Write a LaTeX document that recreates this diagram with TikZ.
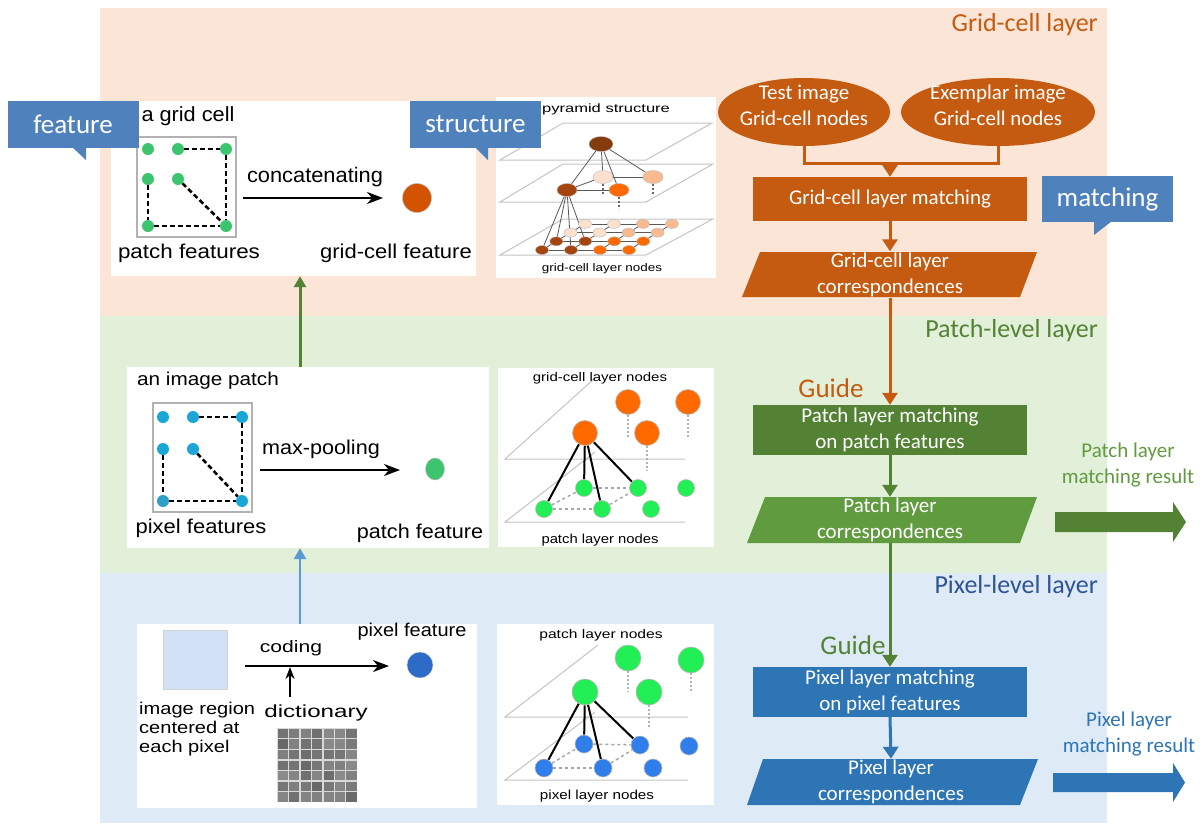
\documentclass[tikz,border=0pt]{standalone}
\usepackage{graphicx}
\usepackage{fontspec}
\setmainfont{Liberation Sans}
\newfontfamily\calfont{Carlito}
\usetikzlibrary{shapes.geometric,arrows.meta,calc}
\definecolor{bandO}{HTML}{FBE5D6}
\definecolor{bandG}{HTML}{E2F0D9}
\definecolor{bandB}{HTML}{DEEBF7}
\definecolor{callB}{HTML}{4F81BD}
\definecolor{orDk}{HTML}{C55A11}
\definecolor{grDk}{HTML}{548235}
\definecolor{grLt}{HTML}{619B40}
\definecolor{blDk}{HTML}{2E75B6}
\definecolor{blMid}{HTML}{5B9BD5}
\definecolor{navy}{HTML}{2F5496}
\definecolor{dotG}{HTML}{3CC46E}
\definecolor{dotB}{HTML}{1AA7D8}
\definecolor{brTop}{HTML}{843C0C}
\definecolor{brMid}{HTML}{A5440E}
\definecolor{peachL}{HTML}{FCE1CE}
\definecolor{peach}{HTML}{F8BA8E}
\definecolor{orBr}{HTML}{FF6A00}
\definecolor{grBr}{HTML}{22EE55}
\definecolor{blBr}{HTML}{2F7EEC}
\definecolor{featO}{HTML}{D35400}
\definecolor{featB}{HTML}{2E6BC6}
\definecolor{planeC}{HTML}{C4C4C4}
\definecolor{regB}{HTML}{D3E1F7}
\newcommand{\ptx}[3]{{\fontsize{#1}{#1}\selectfont\scalebox{#2}[1]{#3}}}
\pgfdeclarelayer{back}
\pgfdeclarelayer{lines}
\pgfsetlayers{back,lines,main}
\tikzset{
  callbox/.style={fill=callB, text=white, font=\calfont\fontsize{27}{30}\selectfont, minimum width=131, minimum height=47, inner sep=0},
  ftxt/.style={font=\calfont\fontsize{21}{26}\selectfont, text=white, align=center, inner sep=0},
  fbox/.style={rectangle, minimum width=274, ftxt},
  ellbox/.style={ellipse, fill=orDk, minimum height=68, inner sep=0},
  corr/.style={minimum width=260, minimum height=46, ftxt},
  conn/.style={line width=3pt, -{Triangle[width=15pt,length=12pt]}},
  lyr/.style={font=\calfont\fontsize{26}{30}\selectfont, anchor=east, inner sep=0},
  guide/.style={font=\calfont\fontsize{27}{30}\selectfont, inner sep=0},
  res/.style={font=\calfont\fontsize{21}{26}\selectfont, align=center, inner sep=0},
  panel/.style={fill=white, inner sep=0},
  txt/.style={inner sep=0, anchor=base},
  gdot/.style={circle, fill=dotG, minimum size=12, inner sep=0},
  bdot/.style={circle, fill=dotB, minimum size=12, inner sep=0},
  dline/.style={dash pattern=on 5pt off 3pt, line width=2.6pt},
  karrow/.style={line width=2pt, -{Stealth[length=16pt,width=12pt,inset=5pt]}},
  plane/.style={draw=planeC, line width=1pt},
  tline/.style={draw=gray!70!black, line width=0.8pt},
  vdots/.style={draw=gray!80!black, line width=1.5pt, dash pattern=on 2pt off 2pt},
  bline/.style={line width=2pt, black},
  gdash/.style={draw=gray!70, line width=1.5pt, dash pattern=on 3pt off 3pt},
  pn/.style={circle, draw=gray!55, line width=0.6pt, inner sep=0},
  en/.style={ellipse, draw=gray!55, line width=0.4pt, inner sep=0},
}
\begin{document}
\begin{tikzpicture}[x=1pt,y=-1pt]
\useasboundingbox (0,0) rectangle (1202,823);
% ---------------- background bands and panels
\begin{pgfonlayer}{back}
\fill[bandO] (100,8) rectangle (1107,316);
\fill[bandG] (100,316) rectangle (1107,573);
\fill[bandB] (100,573) rectangle (1107,823);
\node[panel, minimum width=365, minimum height=175] (P1) at (293.5,188.5) {};
\node[panel, minimum width=220, minimum height=181] (T1) at (606,187.5) {};
\node[panel, minimum width=362, minimum height=181] (P2) at (308,457.5) {};
\node[panel, minimum width=216, minimum height=179] (T2) at (606,457.5) {};
\node[panel, minimum width=340, minimum height=184] (P3) at (307,716) {};
\node[panel, minimum width=217, minimum height=181] (T3) at (605.5,714.5) {};
% planes
\draw[plane] (500,160) -- (646,160) -- (712,123) -- (563,123) -- cycle;
\draw[plane] (500,202) -- (646,202) -- (713,164) -- (563,164) -- cycle;
\draw[plane] (500,255) -- (646,255) -- (713,219) -- (563,219) -- cycle;
\draw[plane] (595,378) -- (505,459) -- (685,459);
\draw[plane] (595,452) -- (505,522) -- (685,522);
\draw[plane] (598,645) -- (505,717) -- (688,717);
\draw[plane] (595,712) -- (505,780) -- (688,780);
\end{pgfonlayer}

% ---------------- layer labels
\node[lyr, text=orDk] (L1) at (1098,25) {Grid-cell layer};
\node[lyr, text=grDk] (L2) at (1098,331) {Patch-level layer};
\node[lyr, text=navy] (L3) at (1098,587) {Pixel-level layer};

% ---------------- panel 1 : grid cell
\node[draw=gray!60, line width=1.2pt, minimum width=99, minimum height=100, inner sep=0] (gcbox) at (186.5,187) {};
\node[gdot] (a1) at (148,149) {};
\node[gdot] (a2) at (178,149) {};
\node[gdot] (a3) at (226,149) {};
\node[gdot] (a4) at (148,179) {};
\node[gdot] (a5) at (178,179) {};
\node[gdot] (a6) at (148,226) {};
\node[gdot] (a7) at (226,226) {};
\begin{pgfonlayer}{lines}
\draw[dline] (a2) -- (a3);
\draw[dline] (a3) -- (a7);
\draw[dline] (a5) -- (a7);
\draw[dline] (a4) -- (a6);
\draw[dline] (a6) -- (a7);
\end{pgfonlayer}
\coordinate (c1) at (243,198);
\coordinate (c2) at (383,198);
\draw[karrow] (c1) -- (c2);
\node[circle, fill=featO, draw=gray!50, line width=0.5pt, minimum size=29, inner sep=0] (gf) at (417,198) {};
\node[txt] (t1a) at (188,121) {\ptx{20.5}{1.06}{a grid cell}};
\node[txt] (t1b) at (315,182) {\ptx{21}{1.04}{concatenating}};
\node[txt] (t1c) at (189,258) {\ptx{20}{1.12}{patch features}};
\node[txt] (t1d) at (396,258) {\ptx{20}{1.1}{grid-cell feature}};

% ---------------- top pyramid
\node[en, fill=brTop, minimum width=24, minimum height=15] (t0) at (601,144) {};
\node[en, fill=brMid, minimum width=20, minimum height=13] (m1) at (567,190) {};
\node[en, fill=peachL, minimum width=20, minimum height=13] (m2) at (603,177) {};
\node[en, fill=orBr, minimum width=20, minimum height=13] (m3) at (619,190) {};
\node[en, fill=peach, minimum width=20, minimum height=13] (m4) at (653,177) {};
\foreach \r in {1,...,4} {
  \foreach \c in {1,...,4} {
    \pgfmathsetmacro\xx{542+29*(\c-1)+14.3*(\r-1)}
    \pgfmathsetmacro\yy{250-8.7*(\r-1)}
    \ifnum\r<3
      \ifnum\c<3 \def\col{brMid}\else\def\col{orBr}\fi
    \else
      \ifnum\c<3 \def\col{peachL}\else\def\col{peach}\fi
    \fi
    \node[en, fill=\col, minimum width=13, minimum height=9] (g\r\c) at (\xx,\yy) {};
  }
}
\begin{pgfonlayer}{lines}
\draw[tline] (t0) -- (m1);
\draw[tline] (t0) -- (m2);
\draw[tline] (t0) -- (m3);
\draw[tline] (t0) -- (m4);
\draw[tline] (m1) -- (m2);
\draw[tline] (m1) -- (m3);
\draw[tline] (m2) -- (m4);
\foreach \r in {1,...,4} { \draw[tline] (g\r1) -- (g\r4); }
\foreach \c in {1,...,4} { \draw[tline] (g1\c) -- (g4\c); }
\draw[tline] (m1) -- (g11);
\draw[tline] (m1) -- (g21);
\draw[tline] (m1) -- (g12);
\draw[tline] (m1) -- (g22);
\draw[vdots] (m2.south) -- ++(0,11);
\draw[vdots] (m4.south) -- ++(0,12);
\draw[vdots] (m3.south) -- ++(0,12);
\end{pgfonlayer}
\node[txt] (t2a) at (606,112) {\ptx{12}{1.38}{pyramid structure}};
\node[txt] (t2b) at (602,271) {\ptx{11}{1.22}{grid-cell layer nodes}};

% ---------------- panel 2 : image patch
\node[draw=gray!60, line width=1.2pt, minimum width=99, minimum height=109, inner sep=0] (ipbox) at (202.5,457.5) {};
\node[bdot] (b1) at (163,417) {};
\node[bdot] (b2) at (193,417) {};
\node[bdot] (b3) at (242,417) {};
\node[bdot] (b4) at (163,449) {};
\node[bdot] (b5) at (193,449) {};
\node[bdot, fill=dotB!80!gray] (b6) at (163,501) {};
\node[bdot] (b7) at (242,501) {};
\begin{pgfonlayer}{lines}
\draw[dline] (b2) -- (b3);
\draw[dline] (b3) -- (b7);
\draw[dline] (b5) -- (b7);
\draw[dline] (b4) -- (b6);
\draw[dline] (b6) -- (b7);
\end{pgfonlayer}
\coordinate (d1) at (260,470);
\coordinate (d2) at (400,470);
\draw[karrow] (d1) -- (d2);
\node[ellipse, fill=dotG, draw=gray!50, line width=0.5pt, minimum width=19, minimum height=22, inner sep=0] (pf) at (435,469) {};
\node[txt] (t3a) at (208,385) {\ptx{18.5}{1.12}{an image patch}};
\node[txt] (t3b) at (321,454) {\ptx{20}{1.08}{max-pooling}};
\node[txt] (t3c) at (201,533) {\ptx{20}{1.1}{pixel features}};
\node[txt] (t3d) at (420,538) {\ptx{20}{1.08}{patch feature}};

% ---------------- middle pyramid
\node[pn, fill=orBr, minimum size=25] (o1) at (585,433) {};
\node[pn, fill=orBr, minimum size=25] (o2) at (628,402) {};
\node[pn, fill=orBr, minimum size=25] (o3) at (688,402) {};
\node[pn, fill=orBr, minimum size=25] (o4) at (647,433) {};
\node[pn, fill=grBr, minimum size=17] (q1) at (584,488) {};
\node[pn, fill=grBr, minimum size=17] (q2) at (638,488) {};
\node[pn, fill=grBr, minimum size=17] (q3) at (686,488) {};
\node[pn, fill=grBr, minimum size=17] (q4) at (544,509) {};
\node[pn, fill=grBr, minimum size=17] (q5) at (602,509) {};
\node[pn, fill=grBr, minimum size=17] (q6) at (651,509) {};
\begin{pgfonlayer}{lines}
\draw[bline] (o1) -- (q4);
\draw[bline] (o1) -- (q1);
\draw[bline] (o1) -- (q5);
\draw[bline] (o1) -- (q2);
\draw[gdash] (q4) -- (q5);
\draw[gdash] (q1) -- (q2);
\draw[gdash] (q4) -- (q1);
\draw[gdash] (q5) -- (q2);
\draw[vdots, draw=gray!60] (o2.south) -- ++(0,22);
\draw[vdots, draw=gray!60] (o3.south) -- ++(0,22);
\draw[vdots, draw=gray!60] (o4.south) -- ++(0,25);
\end{pgfonlayer}
\node[txt] (t4a) at (600,381) {\ptx{12.5}{1.2}{grid-cell layer nodes}};
\node[txt] (t4b) at (600,543) {\ptx{13}{1.14}{patch layer nodes}};

% ---------------- panel 3 : pixel feature
\node[fill=regB, draw=gray!35, line width=0.8pt, minimum width=64, minimum height=59, inner sep=0] (reg) at (195,659.5) {};
\coordinate (e1a) at (245,666);
\coordinate (e1b) at (389,666);
\draw[karrow] (e1a) -- (e1b);
\coordinate (up1) at (290,697);
\coordinate (up2) at (290,667);
\draw[line width=2pt, -{Stealth[length=12pt,width=9pt,inset=4pt]}] (up1) -- (up2);
\node[circle, fill=featB, draw=gray!40, line width=0.5pt, minimum size=26, inner sep=0] (xf) at (420,665) {};
\node[txt] (t5a) at (291,652) {\ptx{16.5}{1.28}{coding}};
\node[txt] (t5b) at (412,636) {\ptx{18.5}{1.08}{pixel feature}};
\node[txt, anchor=base west] (t5c) at (139,714) {\ptx{17}{1.18}{image region}};
\node[txt, anchor=base west] (t5d) at (139,733) {\ptx{17}{1.18}{centered at}};
\node[txt, anchor=base west] (t5e) at (139,752) {\ptx{17}{1.18}{each pixel}};
\node[txt] (t5f) at (316,717) {\ptx{17.5}{1.38}{dictionary}};
% dictionary image
\fill[gray!30] (277,728) rectangle (357,802);
\pgfmathsetseed{11}
\foreach \i in {0,...,6} {
  \foreach \j in {0,...,6} {
    \pgfmathsetmacro\gl{45+15*rnd}
    \fill[black!\gl] ({277.8+\i*11.43},{728.8+\j*10.57}) rectangle ({277.8+\i*11.43+10.2},{728.8+\j*10.57+9.4});
  }
}

% ---------------- bottom pyramid
\node[pn, fill=grBr, minimum size=26] (h1) at (585,692) {};
\node[pn, fill=grBr, minimum size=26] (h2) at (628,658) {};
\node[pn, fill=grBr, minimum size=26] (h3) at (691,660) {};
\node[pn, fill=grBr, minimum size=26] (h4) at (649,692) {};
\node[pn, fill=blBr, minimum size=18] (k1) at (584,744) {};
\node[pn, fill=blBr, minimum size=18] (k2) at (640,745) {};
\node[pn, fill=blBr, minimum size=18] (k3) at (689,746) {};
\node[pn, fill=blBr, minimum size=18] (k4) at (544,768) {};
\node[pn, fill=blBr, minimum size=18] (k5) at (603,768) {};
\node[pn, fill=blBr, minimum size=18] (k6) at (653,768) {};
\begin{pgfonlayer}{lines}
\draw[bline] (h1) -- (k4);
\draw[bline] (h1) -- (k1);
\draw[bline] (h1) -- (k5);
\draw[bline] (h1) -- (k2);
\draw[gdash] (k4) -- (k5);
\draw[gdash] (k1) -- (k2);
\draw[gdash] (k4) -- (k1);
\draw[gdash] (k5) -- (k2);
\draw[vdots, draw=gray!60] (h2.south) -- ++(0,21);
\draw[vdots, draw=gray!60] (h3.south) -- ++(0,20);
\draw[vdots, draw=gray!60] (h4.south) -- ++(0,24);
\end{pgfonlayer}
\node[txt] (t6a) at (601,638) {\ptx{12.5}{1.25}{patch layer nodes}};
\node[txt] (t6b) at (597,799) {\ptx{13}{1.17}{pixel layer nodes}};

% ---------------- vertical arrows between panels
\draw[grDk, line width=3pt, -{Triangle[width=12pt,length=11pt]}] ([xshift=-8]P2.north) -- ([xshift=6.5]P1.south);
\draw[blMid, line width=2.5pt, -{Triangle[width=12pt,length=11pt]}] ([xshift=-7]P3.north) -- ([xshift=-8]P2.south);

% ---------------- callouts
\node[callbox] (cf) at (73,124.5) {feature};
\fill[callB] (72,147) -- (86,160) -- (86,147) -- cycle;
\node[callbox] (cs) at (475.5,124.5) {structure};
\fill[callB] (475,147) -- (488,160) -- (488,147) -- cycle;
\node[callbox, minimum height=46] (cm) at (1107.5,199) {matching};
\fill[callB] (1094,221) -- (1094,235) -- (1112,221) -- cycle;

% ---------------- flowchart
\node[ellbox, minimum width=172] (e1) at (804,112) {};
\node[ftxt] (e1t) at (804,105.5) {Test image\\Grid-cell nodes};
\node[ellbox, minimum width=194] (e2) at (998,112) {};
\node[ftxt] (e2t) at (998,105.5) {Exemplar image\\Grid-cell nodes};
\coordinate (jn) at (890,163);
\node[fbox, fill=orDk, minimum height=44] (gm) at (890,199) {Grid-cell layer matching};
\draw[orDk, line width=3pt] (e1.south) |- (jn) -| (e2.south);
\draw[orDk, conn] (jn) -- (gm.north);
\fill[orDk] (760,252) -- (1037,252) -- (1020,297) -- (742,297) -- cycle;
\node[corr] (gc) at (890,274.5) {Grid-cell layer\\correspondences};
\draw[orDk, conn] (gm.south) -- (gc.north);

\node[fbox, fill=grDk, minimum height=50] (pm) at (890,430) {Patch layer matching\\on patch features};
\draw[orDk, conn] (gc.south) -- (pm.north);
\node[guide, text=orDk] (gd1) at (831,388) {Guide};
\fill[grLt] (765,497) -- (1037,497) -- (1020,543) -- (747,543) -- cycle;
\node[corr] (pc) at (890,520) {Patch layer\\correspondences};
\draw[grDk, conn] (pm.south) -- (pc.north);

\node[fbox, fill=blDk, minimum height=50] (xm) at (890,692) {Pixel layer matching\\on pixel features};
\draw[grDk, conn] (pc.south) -- (xm.north);
\node[guide, text=grDk] (gd2) at (853,645) {Guide};
\fill[blDk] (763,759) -- (1038,759) -- (1020,805) -- (747,805) -- cycle;
\node[corr] (xc) at (891,782) {Pixel layer\\correspondences};
\draw[blDk, conn] (xm.south) -- (xc.north);

% result arrows
\fill[grDk] (1055,512) -- (1173,512) -- (1173,502) -- (1186,522) -- (1173,542) -- (1173,532) -- (1055,532) -- cycle;
\node[res, text=grLt] (r1) at (1128,465) {Patch layer\\matching result};
\fill[blDk] (1053,773) -- (1173,773) -- (1173,763) -- (1185,782.5) -- (1173,802) -- (1173,792) -- (1053,792) -- cycle;
\node[res, text=blDk] (r2) at (1129,734.5) {Pixel layer\\matching result};
\end{tikzpicture}
\end{document}
